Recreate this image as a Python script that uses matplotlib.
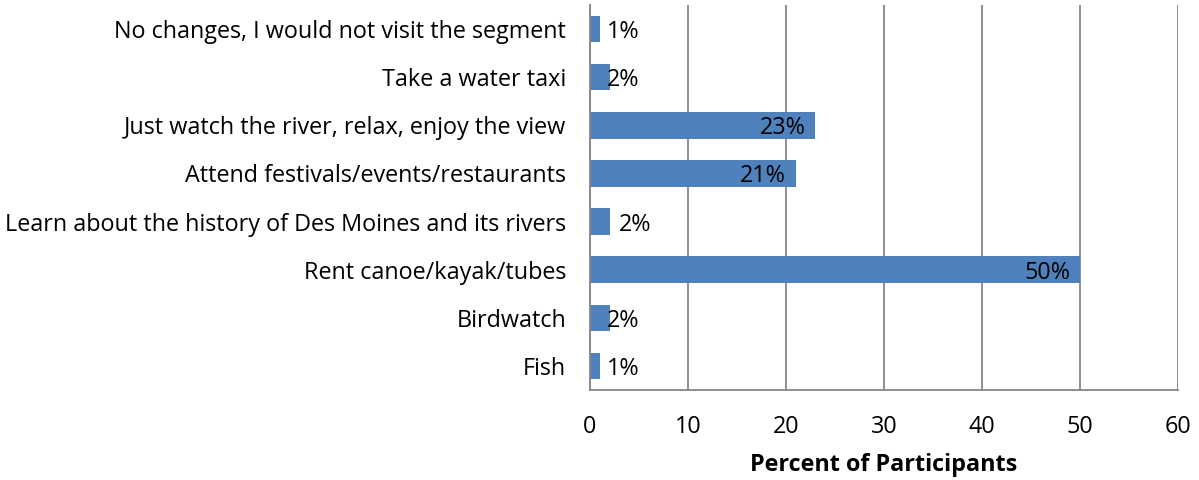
import matplotlib.pyplot as plt

# Survey answers, top to bottom as in the chart
activities = ["No changes, I would not visit the segment",
              "Take a water taxi",
              "Just watch the river, relax, enjoy the view",
              "Attend festivals/events/restaurants",
              "Learn about the history of Des Moines and its rivers",
              "Rent canoe/kayak/tubes",
              "Birdwatch",
              "Fish"]
percents = [1, 2, 23, 21, 2, 50, 2, 1]
ticks = [0, 10, 20, 30, 40, 50, 60]

plt.rcParams['font.family'] = ['Open Sans', 'DejaVu Sans']
fs = 16.8

fig = plt.figure(figsize=(11.99, 4.8), dpi=100)
ax = fig.add_axes([0.492, 0.1875, 0.4906, 0.802])

pos = list(range(len(activities)))[::-1]
ax.barh(pos, percents, height=0.55, color="#4F81BD", zorder=2)

# Data labels: inside end for long bars, just past the bar for short ones
for i, (y, v) in enumerate(zip(pos, percents)):
    if v >= 10:
        ax.text(v - 1.0, y, f"{v}%", ha="right", va="center_baseline", fontsize=fs, zorder=3)
    else:
        x0 = 3.0 if i == 4 else 1.7   # the history label sits a bit further out
        ax.text(x0, y, f"{v}%", ha="left", va="center_baseline", fontsize=fs, zorder=3)

ax.set_xlim(0, 60)
ax.set_ylim(-0.5, len(activities) - 0.5)
ax.set_xticks(ticks)
ax.set_yticks(pos)
ax.set_yticklabels(activities)
ax.tick_params(axis="both", length=0, labelsize=fs)
ax.tick_params(axis="x", pad=18)
ax.tick_params(axis="y", pad=17)
ax.xaxis.grid(True, color="#868686", linewidth=1.3, zorder=1)

for side in ["top", "right"]:
    ax.spines[side].set_visible(False)
for side in ["left", "bottom"]:
    ax.spines[side].set_color("#868686")
    ax.spines[side].set_linewidth(1.3)

ax.set_xlabel("Percent of Participants", fontsize=fs, fontweight="bold", labelpad=10)

fig.savefig("out.png", dpi=100)
